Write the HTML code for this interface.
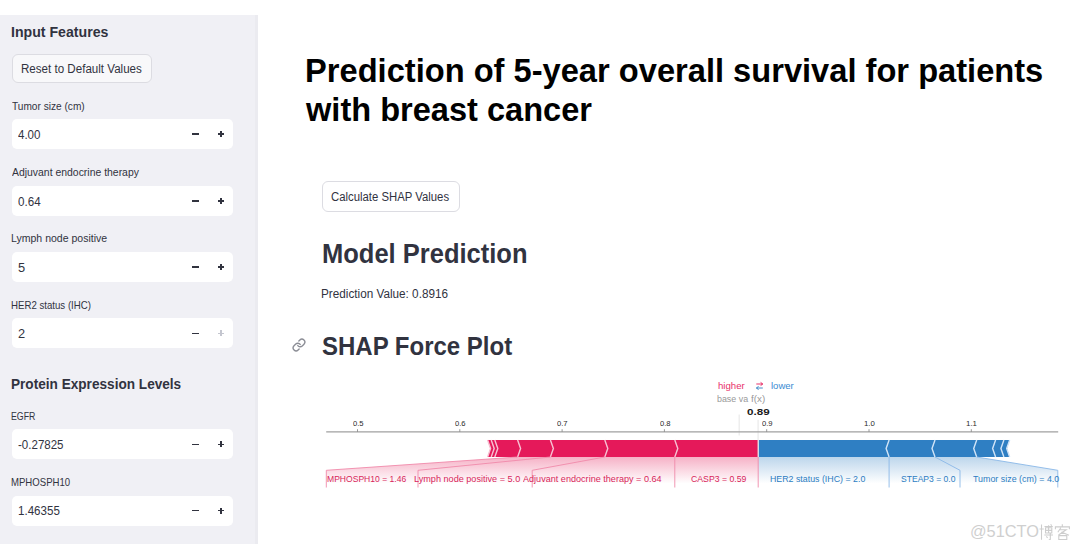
<!DOCTYPE html>
<html><head><meta charset="utf-8"><style>
html,body{margin:0;padding:0;background:#fff;width:1080px;height:550px;overflow:hidden;}
body{position:relative;font-family:"Liberation Sans",sans-serif;}
.t{position:absolute;line-height:1;white-space:nowrap;}
.sb{position:absolute;left:0;top:15px;width:258px;height:529px;background:#f0f0f5;}
.inp{position:absolute;left:12px;width:221px;height:30px;background:#fff;border-radius:5px;}
.btn{position:absolute;border:1px solid #dcdce2;border-radius:5px;box-sizing:border-box;}
.mi{position:absolute;width:7px;height:1.6px;background:#31333f;}
</style></head><body>
<div id="root" style="position:absolute;left:0;top:0;width:1080px;height:550px;">
<div class="sb"></div>
<div style="position:absolute;left:255px;top:15px;width:3px;height:529px;background:#ebebf0"></div>
<div class="btn" style="left:12px;top:53.6px;width:139.6px;height:29.4px;border-radius:6px;background:#f8f8fa;"></div>
<div class="inp" style="top:119.0px;"></div>
<div class="mi" style="left:192px;top:133.2px;"></div>
<div class="mi" style="left:217.9px;width:6.2px;top:133.2px;background:#31333f"></div>
<div class="mi" style="left:220.2px;top:130.9px;width:1.6px;height:6.2px;background:#31333f"></div>
<div class="inp" style="top:185.8px;"></div>
<div class="mi" style="left:192px;top:200.0px;"></div>
<div class="mi" style="left:217.9px;width:6.2px;top:200.0px;background:#31333f"></div>
<div class="mi" style="left:220.2px;top:197.7px;width:1.6px;height:6.2px;background:#31333f"></div>
<div class="inp" style="top:252.2px;"></div>
<div class="mi" style="left:192px;top:266.4px;"></div>
<div class="mi" style="left:217.9px;width:6.2px;top:266.4px;background:#31333f"></div>
<div class="mi" style="left:220.2px;top:264.1px;width:1.6px;height:6.2px;background:#31333f"></div>
<div class="inp" style="top:318.4px;"></div>
<div class="mi" style="left:192px;top:332.6px;"></div>
<div class="mi" style="left:217.9px;width:6.2px;top:332.6px;background:#c4c6cf"></div>
<div class="mi" style="left:220.2px;top:330.3px;width:1.6px;height:6.2px;background:#c4c6cf"></div>
<div class="inp" style="top:429.4px;"></div>
<div class="mi" style="left:192px;top:443.6px;"></div>
<div class="mi" style="left:217.9px;width:6.2px;top:443.6px;background:#31333f"></div>
<div class="mi" style="left:220.2px;top:441.3px;width:1.6px;height:6.2px;background:#31333f"></div>
<div class="inp" style="top:495.6px;"></div>
<div class="mi" style="left:192px;top:509.8px;"></div>
<div class="mi" style="left:217.9px;width:6.2px;top:509.8px;background:#31333f"></div>
<div class="mi" style="left:220.2px;top:507.5px;width:1.6px;height:6.2px;background:#31333f"></div>
<div class="btn" style="left:322px;top:181px;width:138px;height:31px;border-radius:6px;background:#fff;"></div>
<svg style="position:absolute;left:292px;top:338.3px" width="14" height="14" viewBox="0 0 24 24" fill="none" stroke="#8b8d95" stroke-width="2.35" stroke-linecap="round" stroke-linejoin="round">
<path d="M10 13a5 5 0 0 0 7.54.54l3-3a5 5 0 0 0-7.07-7.07l-1.72 1.71"/>
<path d="M14 11a5 5 0 0 0-7.54-.54l-3 3a5 5 0 0 0 7.07 7.07l1.71-1.71"/>
</svg>
<svg style="position:absolute;left:0;top:0" width="1080" height="550" viewBox="0 0 1080 550">
<defs>
<linearGradient id="gr" x1="0" y1="457" x2="0" y2="491" gradientUnits="userSpaceOnUse">
<stop offset="0" stop-color="#e41a58" stop-opacity="0.34"/><stop offset="0.78" stop-color="#e41a58" stop-opacity="0"/></linearGradient>
<linearGradient id="gb" x1="0" y1="457" x2="0" y2="491" gradientUnits="userSpaceOnUse">
<stop offset="0" stop-color="#2f7fc3" stop-opacity="0.32"/><stop offset="0.78" stop-color="#2f7fc3" stop-opacity="0"/></linearGradient>
</defs>
<polygon points="758.2,457 518,457 326.3,470.3 326.3,491 758.2,491" fill="url(#gr)"/>
<polygon points="758.2,457 977,457 1057.8,470.3 1057.8,491 758.2,491" fill="url(#gb)"/>
<line x1="739.2" y1="414.5" x2="739.2" y2="435.5" stroke="#ebebeb" stroke-width="1.3"/>
<line x1="758.1" y1="419.8" x2="758.1" y2="457" stroke="#ebebeb" stroke-width="1.3"/>
<line x1="326.2" y1="431.8" x2="1058.2" y2="431.8" stroke="#a0a0a0" stroke-width="1.3"/>
<line x1="357.5" y1="431.8" x2="357.5" y2="429.2" stroke="#808080" stroke-width="0.8"/>
<line x1="459.8" y1="431.8" x2="459.8" y2="429.2" stroke="#808080" stroke-width="0.8"/>
<line x1="562.1" y1="431.8" x2="562.1" y2="429.2" stroke="#808080" stroke-width="0.8"/>
<line x1="664.4" y1="431.8" x2="664.4" y2="429.2" stroke="#808080" stroke-width="0.8"/>
<line x1="766.7" y1="431.8" x2="766.7" y2="429.2" stroke="#808080" stroke-width="0.8"/>
<line x1="869.0" y1="431.8" x2="869.0" y2="429.2" stroke="#808080" stroke-width="0.8"/>
<line x1="971.3" y1="431.8" x2="971.3" y2="429.2" stroke="#808080" stroke-width="0.8"/>
<polygon points="674.8,457.0 758.2,457.0 758.2,440.0 674.8,440.0 677.8,448.5" fill="#e5195a"/>
<polygon points="604.8,457.0 674.8,457.0 677.5,448.5 674.8,440.0 604.8,440.0 607.5,448.5" fill="#e5195a"/>
<polygon points="550.4,457.0 604.8,457.0 607.5,448.5 604.8,440.0 550.4,440.0 553.1,448.5" fill="#e5195a"/>
<polygon points="517.6,457.0 550.4,457.0 553.1,448.5 550.4,440.0 517.6,440.0 520.3,448.5" fill="#e5195a"/>
<polygon points="494.8,457.0 517.6,457.0 520.3,448.5 517.6,440.0 494.8,440.0 497.5,448.5" fill="#e5195a"/>
<polygon points="491.2,457.0 494.8,457.0 497.5,448.5 494.8,440.0 491.2,440.0 493.9,448.5" fill="#e5195a"/>
<polygon points="487.6,457.0 491.2,457.0 493.9,448.5 491.2,440.0 487.6,440.0 490.3,448.5" fill="#e5195a"/>
<polyline points="674.8,457.0 677.8,448.5 674.8,440.0" fill="none" stroke="#f7c0d2" stroke-width="1.4"/>
<polyline points="604.8,457.0 607.8,448.5 604.8,440.0" fill="none" stroke="#f7c0d2" stroke-width="1.4"/>
<polyline points="550.4,457.0 553.4,448.5 550.4,440.0" fill="none" stroke="#f7c0d2" stroke-width="1.4"/>
<polyline points="517.6,457.0 520.6,448.5 517.6,440.0" fill="none" stroke="#f7c0d2" stroke-width="1.4"/>
<polyline points="494.8,457.0 497.8,448.5 494.8,440.0" fill="none" stroke="#f7c0d2" stroke-width="1.4"/>
<polyline points="491.2,457.0 494.2,448.5 491.2,440.0" fill="none" stroke="#f7c0d2" stroke-width="1.4"/>
<polyline points="487.6,457.0 490.6,448.5 487.6,440.0" fill="none" stroke="#f7c0d2" stroke-width="1.4"/>
<polygon points="889.1,457.0 758.2,457.0 758.2,440.0 889.1,440.0 886.1,448.5" fill="#2f7fc3"/>
<polygon points="889.1,457.0 935.0,457.0 932.3,448.5 935.0,440.0 889.1,440.0 886.4,448.5" fill="#2f7fc3"/>
<polygon points="935.0,457.0 976.7,457.0 974.0,448.5 976.7,440.0 935.0,440.0 932.3,448.5" fill="#2f7fc3"/>
<polygon points="976.7,457.0 995.6,457.0 992.9,448.5 995.6,440.0 976.7,440.0 974.0,448.5" fill="#2f7fc3"/>
<polygon points="995.6,457.0 1003.9,457.0 1001.2,448.5 1003.9,440.0 995.6,440.0 992.9,448.5" fill="#2f7fc3"/>
<polygon points="1003.9,457.0 1009.7,457.0 1007.0,448.5 1009.7,440.0 1003.9,440.0 1001.2,448.5" fill="#2f7fc3"/>
<polyline points="889.1,457.0 886.1,448.5 889.1,440.0" fill="none" stroke="#cfe3f7" stroke-width="1.4"/>
<polyline points="935.0,457.0 932.0,448.5 935.0,440.0" fill="none" stroke="#cfe3f7" stroke-width="1.4"/>
<polyline points="976.7,457.0 973.7,448.5 976.7,440.0" fill="none" stroke="#cfe3f7" stroke-width="1.4"/>
<polyline points="995.6,457.0 992.6,448.5 995.6,440.0" fill="none" stroke="#cfe3f7" stroke-width="1.4"/>
<polyline points="1003.9,457.0 1000.9,448.5 1003.9,440.0" fill="none" stroke="#cfe3f7" stroke-width="1.4"/>
<polyline points="1009.7,457.0 1006.7,448.5 1009.7,440.0" fill="none" stroke="#cfe3f7" stroke-width="1.4"/>
<line x1="758.2" y1="440" x2="758.2" y2="457" stroke="#f2f2f2" stroke-width="1.2"/>
<line x1="758.2" y1="457" x2="758.2" y2="487.5" stroke="#f08aaa" stroke-width="0.9"/>
<line x1="674.8" y1="457" x2="674.8" y2="487.5" stroke="#f08aaa" stroke-width="0.9"/>
<polyline points="604.8,457 532.2,470.3 532.2,487.5" fill="none" stroke="#f08aaa" stroke-width="0.9"/>
<polyline points="550.4,457 418,470.3 418,487.5" fill="none" stroke="#f08aaa" stroke-width="0.9"/>
<polyline points="517.6,457 326.3,470.3 326.3,487.5" fill="none" stroke="#f08aaa" stroke-width="0.9"/>
<line x1="889.1" y1="457" x2="889.1" y2="487.5" stroke="#8ab8e8" stroke-width="0.9"/>
<polyline points="935,457 960,470.3 960,487.5" fill="none" stroke="#8ab8e8" stroke-width="0.9"/>
<polyline points="976.7,457 1057.8,470.3 1057.8,487.5" fill="none" stroke="#8ab8e8" stroke-width="0.9"/>
<path d="M756.3 384 H762.5 M760.6 382.4 L762.8 384 L760.6 385.6" fill="none" stroke="#e41a58" stroke-width="0.9"/>
<path d="M762.8 388 H756.6 M758.6 386.4 L756.3 388 L758.6 389.6" fill="none" stroke="#2f7fc3" stroke-width="0.9"/>
</svg>
<div class="t" style="left:11.08px;top:24px;font-size:15px;color:#31333f;font-weight:bold;transform:scaleX(0.9428);transform-origin:0 0;">Input Features</div>
<div class="t" style="left:21.07px;top:63px;font-size:12px;color:#31333f;transform:scaleX(0.9653);transform-origin:0 0;">Reset to Default Values</div>
<div class="t" style="left:11.90px;top:101px;font-size:11px;color:#31333f;transform:scaleX(0.9197);transform-origin:0 0;">Tumor size (cm)</div>
<div class="t" style="left:18.17px;top:129px;font-size:12px;color:#31333f;transform:scaleX(0.9611);transform-origin:0 0;">4.00</div>
<div class="t" style="left:12.10px;top:167px;font-size:11px;color:#31333f;transform:scaleX(0.9476);transform-origin:0 0;">Adjuvant endocrine therapy</div>
<div class="t" style="left:17.99px;top:196px;font-size:12px;color:#31333f;transform:scaleX(0.9681);transform-origin:0 0;">0.64</div>
<div class="t" style="left:11.26px;top:233px;font-size:11px;color:#31333f;transform:scaleX(0.9571);transform-origin:0 0;">Lymph node positive</div>
<div class="t" style="left:17.89px;top:262px;font-size:12px;color:#31333f;transform:scaleX(1.0702);transform-origin:0 0;">5</div>
<div class="t" style="left:11.33px;top:300px;font-size:11px;color:#31333f;transform:scaleX(0.8777);transform-origin:0 0;">HER2 status (IHC)</div>
<div class="t" style="left:17.76px;top:328px;font-size:12px;color:#31333f;transform:scaleX(1.0688);transform-origin:0 0;">2</div>
<div class="t" style="left:11.32px;top:376px;font-size:15px;color:#31333f;font-weight:bold;transform:scaleX(0.9073);transform-origin:0 0;">Protein Expression Levels</div>
<div class="t" style="left:11.20px;top:411px;font-size:11px;color:#31333f;transform:scaleX(0.7976);transform-origin:0 0;">EGFR</div>
<div class="t" style="left:17.94px;top:439px;font-size:12px;color:#31333f;transform:scaleX(0.9612);transform-origin:0 0;">-0.27825</div>
<div class="t" style="left:11.23px;top:477px;font-size:11px;color:#31333f;transform:scaleX(0.8712);transform-origin:0 0;">MPHOSPH10</div>
<div class="t" style="left:17.53px;top:505px;font-size:12px;color:#31333f;transform:scaleX(0.9647);transform-origin:0 0;">1.46355</div>
<div class="t" style="left:304.88px;top:55px;font-size:32.5px;color:#000;font-weight:bold;transform:scaleX(1.0043);transform-origin:0 0;">Prediction of 5-year overall survival for patients</div>
<div class="t" style="left:305.76px;top:94px;font-size:32.5px;color:#000;font-weight:bold;transform:scaleX(1.0021);transform-origin:0 0;">with breast cancer</div>
<div class="t" style="left:331.43px;top:191px;font-size:12px;color:#31333f;transform:scaleX(0.9448);transform-origin:0 0;">Calculate SHAP Values</div>
<div class="t" style="left:321.54px;top:241px;font-size:27px;color:#31333f;font-weight:bold;transform:scaleX(0.9448);transform-origin:0 0;">Model Prediction</div>
<div class="t" style="left:321.46px;top:288px;font-size:12px;color:#31333f;transform:scaleX(0.9781);transform-origin:0 0;">Prediction Value: 0.8916</div>
<div class="t" style="left:322.20px;top:333px;font-size:26.5px;color:#31333f;font-weight:bold;transform:scaleX(0.9051);transform-origin:0 0;">SHAP Force Plot</div>
<div class="t" style="left:352.73px;top:420px;font-size:7.5px;color:#2a2a2a;transform:scaleX(1.0147);transform-origin:0 0;">0.5</div>
<div class="t" style="left:455.03px;top:420px;font-size:7.5px;color:#2a2a2a;transform:scaleX(1.0147);transform-origin:0 0;">0.6</div>
<div class="t" style="left:557.33px;top:420px;font-size:7.5px;color:#2a2a2a;transform:scaleX(1.0186);transform-origin:0 0;">0.7</div>
<div class="t" style="left:659.63px;top:420px;font-size:7.5px;color:#2a2a2a;transform:scaleX(1.0147);transform-origin:0 0;">0.8</div>
<div class="t" style="left:761.93px;top:420px;font-size:7.5px;color:#2a2a2a;transform:scaleX(1.0186);transform-origin:0 0;">0.9</div>
<div class="t" style="left:863.91px;top:420px;font-size:7.5px;color:#2a2a2a;transform:scaleX(1.0425);transform-origin:0 0;">1.0</div>
<div class="t" style="left:966.21px;top:420px;font-size:7.5px;color:#2a2a2a;transform:scaleX(1.0507);transform-origin:0 0;">1.1</div>
<div class="t" style="left:718.37px;top:382px;font-size:9.3px;color:#e8306a;transform:scaleX(1.0348);transform-origin:0 0;">higher</div>
<div class="t" style="left:770.63px;top:382px;font-size:9.3px;color:#3a8ad2;transform:scaleX(1.0257);transform-origin:0 0;">lower</div>
<div class="t" style="left:717.37px;top:395px;font-size:9.3px;color:#999;transform:scaleX(0.9547);transform-origin:0 0;">base va</div>
<div class="t" style="left:751.40px;top:395px;font-size:9.3px;color:#999;transform:scaleX(1.0551);transform-origin:0 0;">f(x)</div>
<div class="t" style="left:747.09px;top:408px;font-size:9.2px;color:#1a1a1a;font-weight:bold;transform:scaleX(1.2637);transform-origin:0 0;">0.89</div>
<div class="t" style="left:326.72px;top:475px;font-size:8.8px;color:#d81f5a;transform:scaleX(0.9730);transform-origin:0 0;">MPHOSPH10 = 1.46</div>
<div class="t" style="left:414.07px;top:475px;font-size:8.8px;color:#d81f5a;transform:scaleX(1.0351);transform-origin:0 0;">Lymph node positive = 5.0</div>
<div class="t" style="left:523.30px;top:475px;font-size:8.8px;color:#d81f5a;transform:scaleX(1.0323);transform-origin:0 0;">Adjuvant endocrine therapy = 0.64</div>
<div class="t" style="left:690.56px;top:475px;font-size:8.8px;color:#d81f5a;transform:scaleX(0.9897);transform-origin:0 0;">CASP3 = 0.59</div>
<div class="t" style="left:769.99px;top:475px;font-size:8.8px;color:#2c7cc2;transform:scaleX(1.0021);transform-origin:0 0;">HER2 status (IHC) = 2.0</div>
<div class="t" style="left:901.41px;top:475px;font-size:8.8px;color:#2c7cc2;transform:scaleX(0.9730);transform-origin:0 0;">STEAP3 = 0.0</div>
<div class="t" style="left:973.02px;top:475px;font-size:8.8px;color:#2c7cc2;transform:scaleX(1.0095);transform-origin:0 0;">Tumor size (cm) = 4.0</div>
<div class="t" style="left:969.77px;top:523px;font-size:17px;color:#cfcfcf;transform:scaleX(0.9619);transform-origin:0 0;">@51CTO</div>
<svg style="position:absolute;left:1038.5px;top:523.5px" width="32" height="16" viewBox="0 0 32 16" fill="none" stroke="#cdcdcd" stroke-width="1.1">
<path d="M2.5 0.5 V15.8 M0.5 5 H4.8 M5.5 2.5 H13.8 M11.6 0.4 L12.8 1.6 M6.5 3.8 H12.8 V9 H6.5 Z M6.5 6.4 H12.8 M9.6 1.2 V9.5 M5.3 11 H14 M11.3 9.6 V15.2 Q11.3 16 9.8 15.6 M7.3 12.3 L8.6 13.8"/>
<path d="M23.3 0.3 V2.4 M16.4 5.2 V2.9 H30.4 V5.2 M21.8 3.8 L18.8 8.2 M20.8 5.8 H27.2 L19.5 11 M22.4 8 L30 11.2 M19.8 11.6 H27.8 V15.6 H19.8 Z"/>
</svg>
</div>
</body></html>
